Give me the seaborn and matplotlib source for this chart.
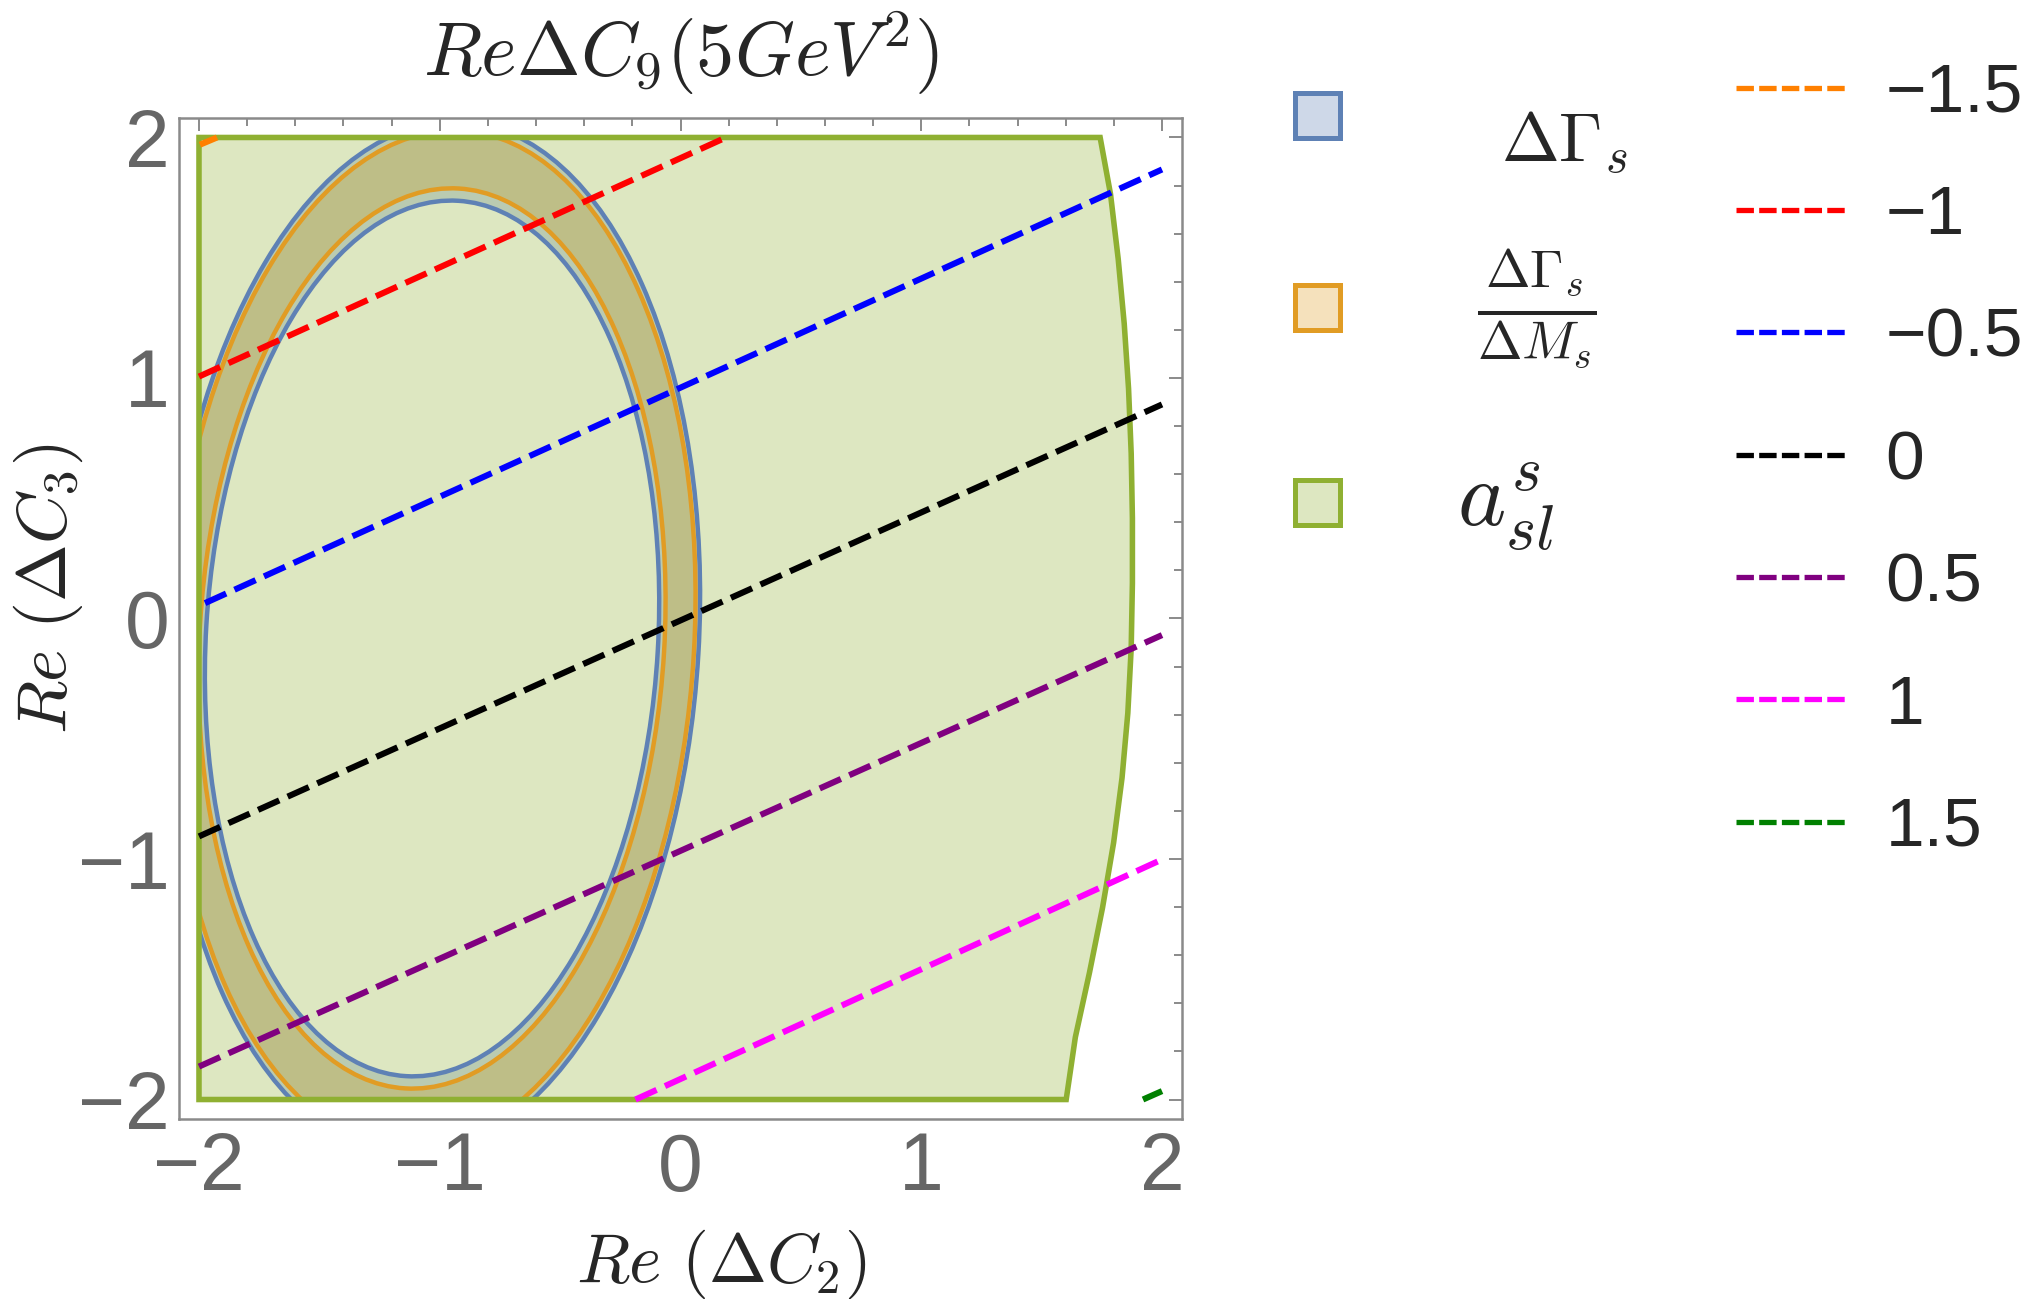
import pandas as pd
import seaborn as sns
import matplotlib.pyplot as plt
from matplotlib.colors import to_rgba
from matplotlib.lines import Line2D
from matplotlib.patches import Ellipse, PathPatch, Rectangle
from matplotlib.path import Path
from matplotlib.transforms import Affine2D
from matplotlib.ticker import MultipleLocator

# ReDeltaC9 contour levels, dashed segments (data coords)
levels = ['−1.5', '−1', '−0.5', '0', '0.5', '1', '1.5']
line_colors = ['#FF8000', '#FF0000', '#0000FF', '#000000', '#800080', '#FF00FF', '#008000']
line_x0 = [-1.996, -2.0, -1.975, -2.0, -2.0, -0.187, 1.921]
line_y0 = [1.970, 1.006, 0.064, -0.906, -1.863, -2.0, -2.0]
line_x1 = [-1.925, 0.189, 2.0, 2.0, 2.0, 2.0, 2.0]
line_y1 = [2.0, 2.0, 1.867, 0.890, -0.069, -1.002, -1.965]

# a_sl^s allowed region
green_x = [-2.0, -2.0, 1.743, 1.786, 1.818, 1.843, 1.861, 1.872, 1.877, 1.877,
           1.872, 1.858, 1.834, 1.799, 1.753, 1.699, 1.640, 1.602]
green_y = [-2.0, 2.0, 2.0, 1.765, 1.495, 1.226, 0.956, 0.686, 0.416, 0.147,
           -0.123, -0.393, -0.662, -0.932, -1.202, -1.471, -1.741, -2.0]

# DeltaGamma_s and DeltaGamma_s/DeltaM_s rings (same ellipse, inner/outer scale)
ell_center = (-1.032, -0.083)
ell_semi = (0.939, 1.823)
ell_angle = -3.4
ring_dgs = (1.0, 1.18)
ring_ratio = (1.028, 1.16)

region_labels = [r'$\Delta\Gamma_s$', r'$\frac{\Delta\Gamma_s}{\Delta M_s}$', r'$a_{sl}^{s}$']

BLUE = '#5E81B5'
ORANGE = '#E19C24'
GREEN = '#8FB032'
FRAME = '#8a8a8a'

sns.set_theme(style='white')
plt.rcParams['font.family'] = ['Liberation Sans', 'DejaVu Sans']
plt.rcParams['mathtext.fontset'] = 'cm'

W, H = 2034, 1299
fig = plt.figure(figsize=(W / 100, H / 100), dpi=100)
ax = fig.add_axes([179 / W, 1 - 1119 / H, 1003 / W, 1001 / H])

clip = Rectangle((-2, -2), 4, 4, transform=ax.transData)


def ellipse_path(scale, flip=False):
    e = Ellipse(ell_center, 2 * ell_semi[0] * scale, 2 * ell_semi[1] * scale, angle=ell_angle)
    circ = Path.unit_circle()
    if flip:
        circ = circ.transformed(Affine2D().scale(1, -1))
    return circ.transformed(e.get_patch_transform())


# fills: rings first, green region over them
for (k_in, k_out), col, z in [(ring_dgs, BLUE, 1), (ring_ratio, ORANGE, 2)]:
    ring = Path.make_compound_path(ellipse_path(k_out), ellipse_path(k_in, flip=True))
    face = PathPatch(ring, facecolor=to_rgba(col, 0.3), edgecolor='none', zorder=z)
    ax.add_patch(face)
    face.set_clip_path(clip)

ax.fill(green_x, green_y, facecolor=to_rgba(GREEN, 0.3), edgecolor='none', zorder=3)

# boundaries on top
for (k_in, k_out), col, z in [(ring_dgs, BLUE, 4), (ring_ratio, ORANGE, 4.5)]:
    for k in (k_in, k_out):
        edge = PathPatch(ellipse_path(k), facecolor='none', edgecolor=col, lw=3.2, zorder=z)
        ax.add_patch(edge)
        edge.set_clip_path(clip)
ax.fill(green_x, green_y, facecolor='none', edgecolor=GREEN, lw=4.0, zorder=5)

# dashed ReDeltaC9 contours
df = pd.DataFrame({
    'x': line_x0 + line_x1,
    'y': line_y0 + line_y1,
    'level': levels + levels,
})
sns.lineplot(data=df, x='x', y='y', hue='level', hue_order=levels, palette=line_colors,
             estimator=None, sort=False, legend=False, linewidth=4.4, ax=ax, zorder=6)
for ln in ax.lines:
    ln.set_dashes((3.8, 1.5))

ax.set_xlim(-2.083, 2.083)
ax.set_ylim(-2.081, 2.081)
ax.xaxis.set_major_locator(MultipleLocator(1))
ax.yaxis.set_major_locator(MultipleLocator(1))
ax.xaxis.set_minor_locator(MultipleLocator(0.2))
ax.yaxis.set_minor_locator(MultipleLocator(0.2))
ax.tick_params(which='both', direction='in', top=True, right=True, color=FRAME,
               labelcolor='#666666', width=1.4, labelsize=58)
ax.tick_params(which='major', length=9.4)
ax.tick_params(which='minor', length=5.8)
ax.tick_params(axis='x', pad=9)
ax.tick_params(axis='y', pad=7)
for sp in ax.spines.values():
    sp.set_color(FRAME)
    sp.set_linewidth(1.8)

ax.set_title(r'$Re\Delta C_9(5GeV^2)$', fontsize=55, pad=30)
ax.set_xlabel(r'$Re\ (\Delta C_2)$', fontsize=50)
ax.xaxis.set_label_coords(0.541, -0.109)
ax.set_ylabel(r'$Re\ (\Delta C_3)$', fontsize=50)
ax.yaxis.set_label_coords(-0.094, 0.53)

# region legend
for col, yc in zip([BLUE, ORANGE, GREEN], [115, 308, 502]):
    fig.add_artist(Rectangle((1294.5 / W, 1 - (yc + 22.5) / H), 45 / W, 45 / H,
                             transform=fig.transFigure, facecolor=to_rgba(col, 0.3),
                             edgecolor=col, lw=3.6))
fig.text(1501 / W, 1 - 162 / H, region_labels[0], fontsize=50, ha='left', va='baseline')
fig.text(1477 / W, 1 - 309 / H, region_labels[1], fontsize=55, ha='left', va='center')
fig.text(1457 / W, 1 - 527 / H, region_labels[2], fontsize=66, ha='left', va='baseline')

# contour legend
handles = [Line2D([], [], color=c, lw=3.8, dashes=(3.3, 1.0)) for c in line_colors]
fig.legend(handles, levels, loc='upper left', bbox_to_anchor=(1736 / W, 1 - 62 / H),
           frameon=False, fontsize=50, handlelength=1.57, handletextpad=0.58,
           labelspacing=0.84, borderpad=0, borderaxespad=0)

fig.savefig('out.png', dpi=100)
